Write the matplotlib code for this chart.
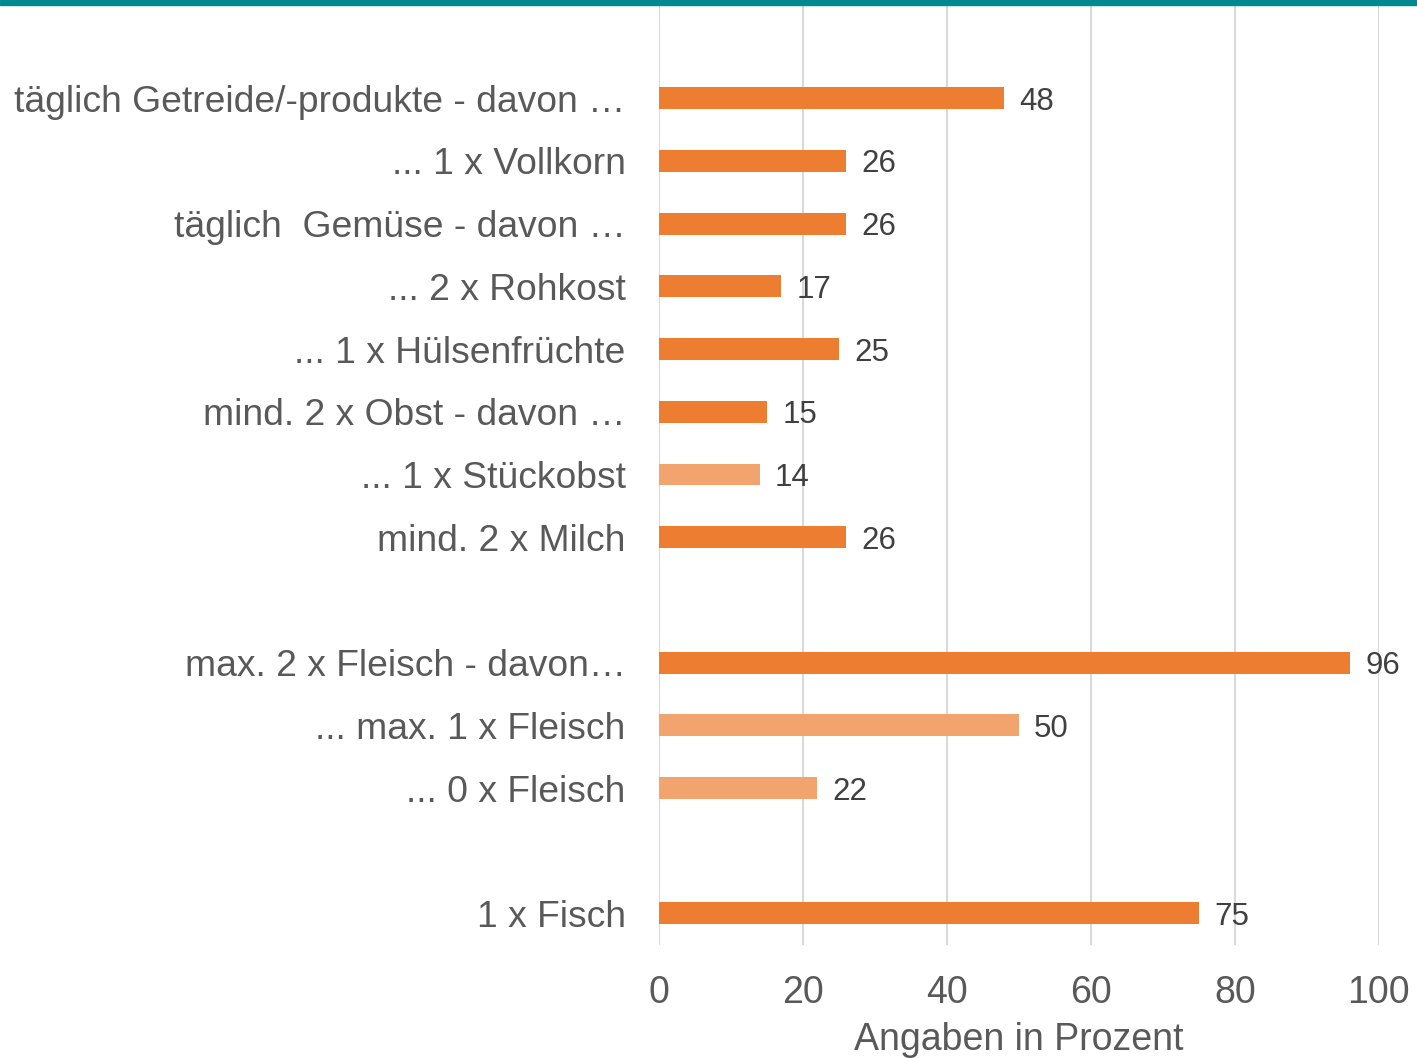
import matplotlib
matplotlib.use("Agg")
import matplotlib.pyplot as plt

plt.rcParams['font.family'] = ['Liberation Sans', 'DejaVu Sans']

# categories top to bottom, "" marks an empty slot
categories = ["täglich Getreide/-produkte - davon …",
              "... 1 x Vollkorn",
              "täglich  Gemüse - davon …",
              "... 2 x Rohkost",
              "... 1 x Hülsenfrüchte",
              "mind. 2 x Obst - davon …",
              "... 1 x Stückobst",
              "mind. 2 x Milch",
              "",
              "max. 2 x Fleisch - davon…",
              "... max. 1 x Fleisch",
              "... 0 x Fleisch",
              "",
              "1 x Fisch"]
values = [48, 26, 26, 17, 25, 15, 14, 26, None, 96, 50, 22, None, 75]
light = [False, False, False, False, False, False, True, False,
         False, False, True, True, False, False]
xticks = [0, 20, 40, 60, 80, 100]

dark_col = '#ED7D31'
light_col = '#F2A46F'
text_col = '#595959'

fig = plt.figure(figsize=(14.17, 10.58), dpi=100)
ax = fig.add_axes([0.465, 0.107, 0.508, 0.889])

ypos = list(range(len(categories)))
for y, v, lt in zip(ypos, values, light):
    if v is None:
        continue
    ax.barh(y, v, height=0.35, color=light_col if lt else dark_col, zorder=3)
    ax.annotate(str(v), (v, y), xytext=(11, -2.5), textcoords='offset points',
                va='center', ha='left', fontsize=22.5, color='#404040',
                annotation_clip=False)

ax.set_ylim(len(categories) - 0.5, -1.5)
ax.set_yticks(ypos)
ax.set_yticklabels(categories, fontsize=26.8, color=text_col)
ax.set_xlim(0, 100)
ax.set_xticks(xticks)
ax.set_xticklabels([str(t) for t in xticks], fontsize=27, color=text_col)
ax.tick_params(axis='both', length=0)
ax.tick_params(axis='y', pad=24)
ax.tick_params(axis='x', pad=22)
ax.grid(axis='x', color='#D9D9D9', linewidth=1.5, zorder=0)
for s in ax.spines.values():
    s.set_visible(False)
ax.set_xlabel("Angaben in Prozent", fontsize=27, color=text_col, labelpad=8)

# teal rule along the top edge
fig.patches.append(plt.Rectangle((0, 0.995), 1, 0.005, transform=fig.transFigure,
                                 color='#00898F', zorder=5))

fig.savefig("out.png", dpi=100)
